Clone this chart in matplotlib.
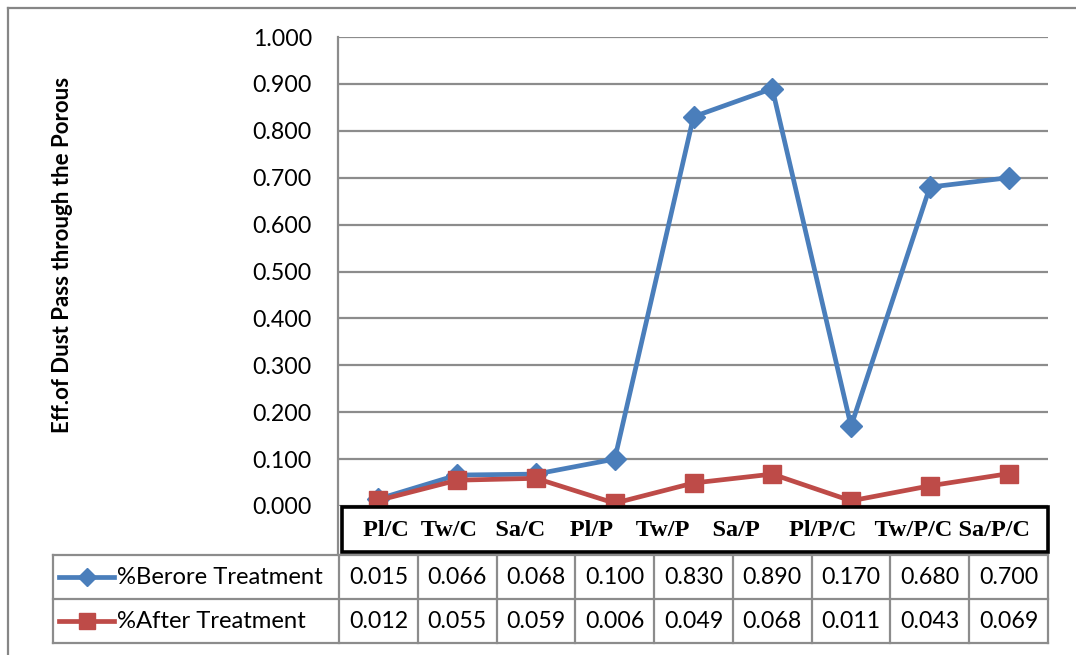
import matplotlib.pyplot as plt
from matplotlib.patches import Rectangle
from matplotlib.ticker import FormatStrFormatter

categories = ['Pl/C', 'Tw/C', 'Sa/C', 'Pl/P', 'Tw/P', 'Sa/P', 'Pl/P/C', 'Tw/P/C', 'Sa/P/C']
before = [0.015, 0.066, 0.068, 0.100, 0.830, 0.890, 0.170, 0.680, 0.700]
after = [0.012, 0.055, 0.059, 0.006, 0.049, 0.068, 0.011, 0.043, 0.069]
series_names = ['%Berore Treatment', '%After Treatment']
yticks = [0.0, 0.1, 0.2, 0.3, 0.4, 0.5, 0.6, 0.7, 0.8, 0.9, 1.0]
ylabel = 'Eff.of Dust Pass through the Porous'
# spaces between the category names in the label strip
cat_gaps = [2, 3, 4, 4, 4, 5, 3, 1]

W, H = 1076, 655
BLUE = '#4A7EBB'
RED = '#BE4B48'
GRID = '#8C8C8C'
FRAME = '#868686'
SANS = ['Lato', 'DejaVu Sans']
SERIF = ['Liberation Serif', 'DejaVu Serif']

# pixel layout (origin top-left)
PL, PR, PT, PB = 339, 1048, 37, 506
ROW_TOP, ROW_H, KEY_L = 555, 44, 53

plt.rcParams['font.family'] = SANS

fig = plt.figure(figsize=(W / 100, H / 100), dpi=100)
ax = fig.add_axes([PL / W, 1 - PB / H, (PR - PL) / W, (PB - PT) / H])

x = list(range(len(categories)))
ax.plot(x, before, color=BLUE, lw=3.4, marker='D', ms=11, clip_on=False, zorder=3)
ax.plot(x, after, color=RED, lw=3.4, marker='s', ms=13.5, clip_on=False, zorder=4)

ax.set_xlim(-0.5, len(categories) - 0.5)
ax.set_ylim(0, 1)
ax.set_yticks(yticks)
ax.set_xticks([])
ax.yaxis.set_major_formatter(FormatStrFormatter('%.3f'))
ax.tick_params(axis='y', length=0, pad=19.5, labelsize=16.7)
ax.yaxis.grid(True, color=GRID, lw=1.6)
ax.set_axisbelow(True)
for s in ax.spines.values():
    s.set_visible(False)

# overlay in pixel coordinates for frame, category strip and data table
ov = fig.add_axes([0, 0, 1, 1], zorder=3)
ov.set_xlim(0, W)
ov.set_ylim(H, 0)
ov.axis('off')
ov.patch.set_visible(False)

ov.plot([7.5, 7.5], [H, 7.5], color=FRAME, lw=1.6)
ov.plot([7.5, W], [7.5, 7.5], color=FRAME, lw=1.6)
ov.plot([PL - 1, PL - 1], [PT, 553], color=GRID, lw=1.6)

ov.text(63, 255, ylabel, rotation=90, ha='center', va='center',
        fontsize=16, fontweight='bold')

# category strip
ov.add_patch(Rectangle((342, 507), PR - 342, 45, fc='white', ec='black', lw=2.6, zorder=5))
cat_text = categories[0]
for name, g in zip(categories[1:], cat_gaps):
    cat_text += ' ' * g + name
ov.text(363, 530, cat_text, family=SERIF, fontweight='bold', fontsize=17.5,
        ha='left', va='center', zorder=6)

# data table
colw = (PR - PL) / len(categories)
rows = [before, after]
for r in range(len(rows) + 1):
    y = ROW_TOP + r * ROW_H
    ov.plot([KEY_L, PR], [y, y], color=GRID, lw=1.6, zorder=2)
for xv in [KEY_L] + [PL + i * colw for i in range(len(categories) + 1)]:
    ov.plot([xv, xv], [ROW_TOP, ROW_TOP + len(rows) * ROW_H], color=GRID, lw=1.6, zorder=2)

styles = [(BLUE, 'D', 9), (RED, 's', 11.5)]
for r, (vals, name, (c, m, ms)) in enumerate(zip(rows, series_names, styles)):
    yc = ROW_TOP + (r + 0.5) * ROW_H
    ov.plot([59, 114], [yc, yc], color=c, lw=3.4, zorder=3)
    ov.plot([86.5], [yc], color=c, marker=m, ms=ms, zorder=3)
    ov.text(117, yc, name, fontsize=17.2, ha='left', va='center')
    for i, v in enumerate(vals):
        ov.text(PL + (i + 0.5) * colw, yc, f'{v:.3f}', fontsize=16.7,
                ha='center', va='center')

fig.savefig('out.png', dpi=100, facecolor='white')
